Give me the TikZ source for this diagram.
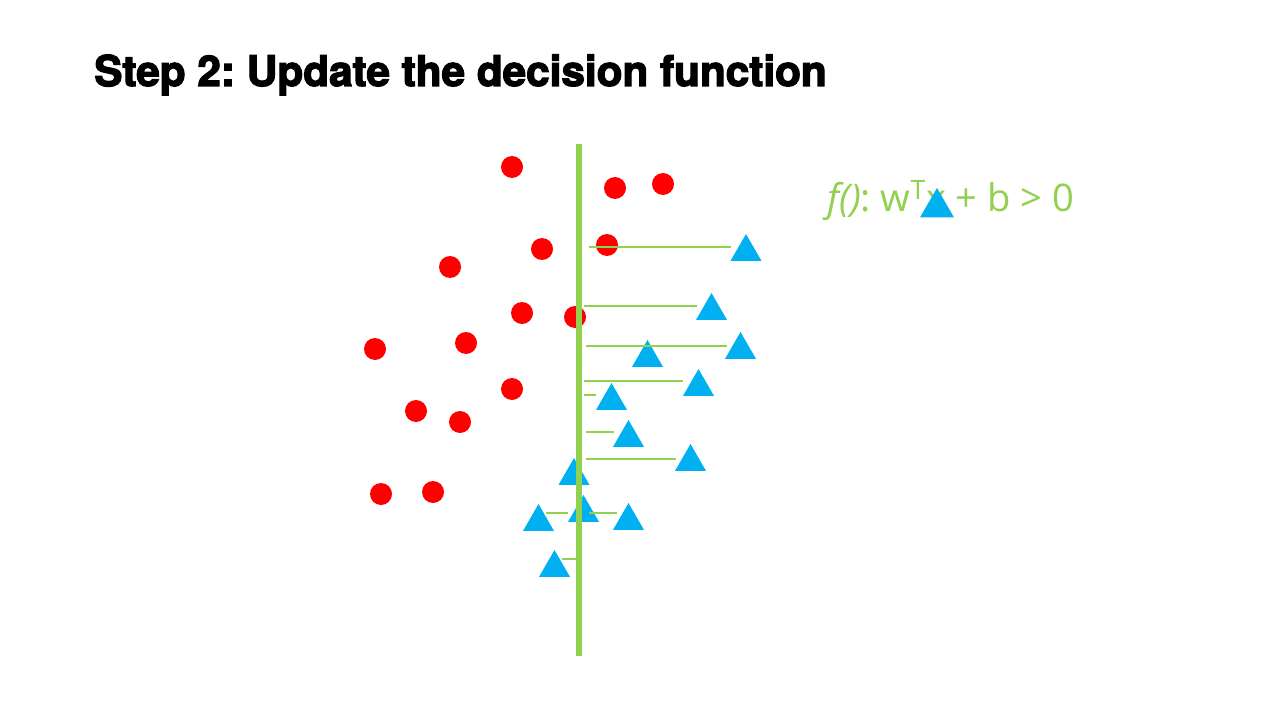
\documentclass[tikz,border=0pt]{standalone}
\usepackage{fontspec}
\setmainfont{Open Sans}
\newfontfamily\titlefont{TeX Gyre Heros}[BoldFeatures={FakeBold=3}]
\usetikzlibrary{shapes.geometric}
\definecolor{boundary}{HTML}{92D050}
\definecolor{classA}{HTML}{FF0000}
\definecolor{classB}{HTML}{00B0F0}
\frenchspacing

\begin{document}
\begin{tikzpicture}[x=0.75pt,y=-0.75pt,
  dotA/.style={circle,fill=classA,inner sep=0pt,outer sep=0pt,minimum size=16.5pt},
  triB/.style={regular polygon,regular polygon sides=3,fill=classB,inner sep=0pt,outer sep=0pt,minimum size=26.8pt},
  gap/.style={draw=boundary,line width=1.5pt},
  sep/.style={draw=boundary,line width=4.5pt},
]
\useasboundingbox[fill=white] (0,0) rectangle (1280,720);

% title
\node[anchor=base west,inner sep=0pt,font=\titlefont\bfseries\fontsize{31.7}{37}\selectfont] (title) at (94,86) {Step 2: Update the decision function};

% class A points
\foreach \n/\px/\py in {a1/512/167, a2/615/188, a3/663/184, a4/542/249, a5/607/245,
  a6/450/267, a7/522/313, a8/575/317, a9/375/349, a10/466/343, a11/512/389,
  a12/416/411, a13/460/422, a14/381/494, a15/433/492}
  \node[dotA] (\n) at (\px,\py) {};

% class B points
\foreach \n/\px/\py in {b1/746/251.9, b2/711.5/310.9, b3/647.5/357.9, b4/740.5/349.9,
  b5/698.5/386.9, b6/611.5/400.9, b7/628.5/437.9, b8/690.5/461.9, b9/574/475.9,
  b10/583.5/512.9, b11/538.5/521.9, b12/628.5/520.9, b13/554.5/567.9}
  \node[triB] (\n) at (\px,\py) {};

% distances to the boundary
\foreach \n/\xa/\xb/\py in {d1/589/731/246.7, d2/584/696.5/306, d3/586/727/345.7,
  d4/584/683/381, d5/584/596/394.7, d6/586/613.5/431.7, d7/586/675.5/458.5,
  d8/546/567.5/512.7, d9/589/616.5/512.7, d10/561.5/575.5/558.7}{
  \coordinate (\n s) at (\xa,\py);
  \coordinate (\n e) at (\xb,\py);
  \draw[gap] (\n s) -- (\n e);
}

% decision boundary
\coordinate (top) at (579,144);
\coordinate (bottom) at (579,656);
\draw[sep] (top) -- (bottom);

% decision function
\node[anchor=base west,inner sep=0pt,text=boundary,font=\fontsize{28.6}{34}\selectfont] (fx) at (827,212) {\textit{f()}: w\textsuperscript{T}x + b > 0};
\node[triB,minimum size=29.4pt] (fxtri) at (937,207.6) {};
\end{tikzpicture}
\end{document}
